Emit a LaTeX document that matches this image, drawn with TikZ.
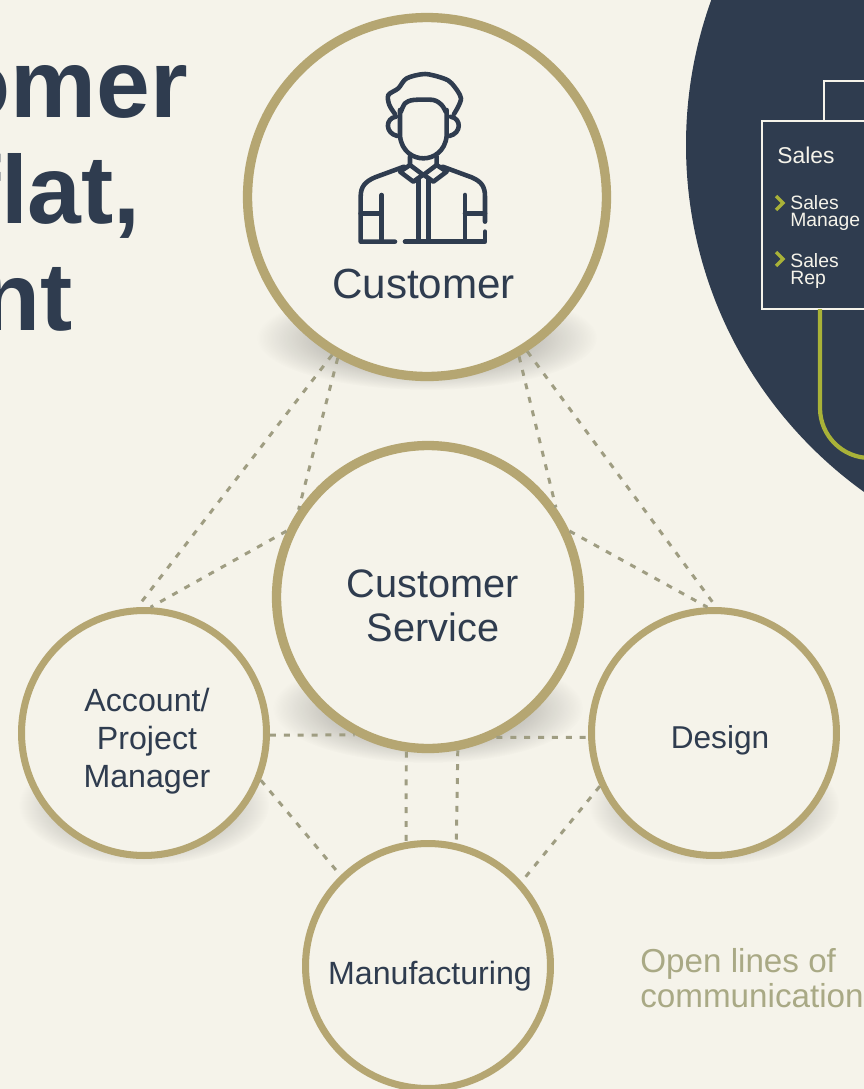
\documentclass[tikz,border=0pt]{standalone}
\usepackage{fontspec}
\usepackage{xcolor}
\usetikzlibrary{fadings}
\setmainfont{Liberation Sans}

\definecolor{paper}{HTML}{F5F3EA}
\definecolor{inkblue}{HTML}{2F3C4F}
\definecolor{ringgold}{HTML}{B5A672}
\definecolor{dashgrey}{HTML}{9F9D82}
\definecolor{limegreen}{HTML}{A9B238}
\definecolor{openolive}{HTML}{A9A985}

\tikzfading[name=softspot, inner color=transparent!0, outer color=transparent!100]

\tikzset{
    bigring/.style={circle, draw=ringgold, fill=paper, line width=5.3pt, outer sep=2.65pt},
    smallring/.style={circle, draw=ringgold, fill=paper, line width=4pt, outer sep=2pt},
    openline/.style={draw=dashgrey, line width=1.7pt, dash pattern=on 3.4pt off 4.5pt},
    softshadow/.style={fill=black, fill opacity=0.5, path fading=softspot},
    iconline/.style={draw=inkblue, line width=2.6pt, line cap=round, line join=round},
    circletext/.style={text=inkblue, align=center},
    boxtext/.style={text=paper, align=left, anchor=base west},
}

\begin{document}
\begin{tikzpicture}[x=0.02cm, y=-0.02cm]

    \clip (0,0) rectangle (864,1089);
    \fill[paper] (0,0) rectangle (864,1089);

    % title
    \node[text=inkblue, anchor=base east, inner sep=0pt, font=\fontsize{55}{60}\selectfont\bfseries] (titleone) at (188,117) {omer};
    \node[text=inkblue, anchor=base east, inner sep=0pt, font=\fontsize{55}{60}\selectfont\bfseries] (titletwo) at (141,223) {flat,};
    \node[text=inkblue, anchor=base east, inner sep=0pt, font=\fontsize{55}{60}\selectfont\bfseries] (titlethree) at (73,330) {nt};

    % org chart circle
    \fill[inkblue] (1113,145) circle (427);
    \node[rectangle, draw=paper, line width=1.5pt, outer sep=0pt, minimum width=4cm, minimum height=3.76cm, anchor=north west] (salesbox) at (762,121) {};
    \coordinate (salesup) at (824,121);
    \coordinate (chartline) at (890,81);
    \coordinate (salesdown) at (820,309);
    \coordinate (greenend) at (890,458);
    \draw[paper, line width=1.5pt] (salesup) |- (chartline);
    \draw[limegreen, line width=2.4pt, rounded corners=1cm] (salesdown) |- (greenend);

    \node[boxtext, inner sep=0pt, font=\fontsize{13}{15}\selectfont] (salestitle) at (777,163) {Sales};
    \node[boxtext, inner sep=0pt, font=\fontsize{11}{10}\selectfont] (salesmanager) at (790,209) {Sales};
    \node[boxtext, inner sep=0pt, font=\fontsize{11}{10}\selectfont] (salesmanagertwo) at (790,226) {Manage};
    \node[boxtext, inner sep=0pt, font=\fontsize{11}{10}\selectfont] (salesrep) at (790,267) {Sales};
    \node[boxtext, inner sep=0pt, font=\fontsize{11}{10}\selectfont] (salesreptwo) at (790,284) {Rep};
    \draw[limegreen, line width=2pt] (776,196) -- (783,203) -- (776,210);
    \draw[limegreen, line width=2pt] (776,252) -- (783,259) -- (776,266);

    % shadows below the circles
    \fill[softshadow] (427,338) ellipse (170 and 52);
    \fill[softshadow] (428,708) ellipse (155 and 55);
    \fill[softshadow] (144,805) ellipse (125 and 60);
    \fill[softshadow] (714,805) ellipse (125 and 60);

    % circles
    \node[bigring, minimum size=7.18cm] (customer) at (427,197) {};
    \node[bigring, minimum size=6.06cm] (service) at (428,597) {};
    \node[smallring, minimum size=4.9cm] (account) at (144,733) {};
    \node[smallring, minimum size=4.9cm] (design) at (714,733) {};
    \node[smallring, minimum size=4.9cm] (manufacturing) at (428,966) {};

    % open lines
    \draw[openline] (customer.-121) -- (account.93);
    \draw[openline] (customer.-119) -- (service.146);
    \draw[openline] (service.155) -- (account.87);
    \draw[openline] (customer.-60) -- (service.35);
    \draw[openline] (customer.-57) -- (design.89);
    \draw[openline] (service.25) -- (design.93);
    \draw[openline] (account.-1) -- (service.-118);
    \draw[openline] (service.-64.7) -- (design.182);
    \draw[openline] (service.-98) -- (manufacturing.100);
    \draw[openline] (service.-79) -- (manufacturing.77);
    \draw[openline] (account.-22) -- (manufacturing.134);
    \draw[openline] (design.-155) -- (manufacturing.42);

    % person icon
    \begin{scope}[shift={(300,50)}, scale=1/3]
        \draw[iconline] plot[smooth] coordinates {(285,192) (268,165) (265,135) (295,115) (320,85) (375,72) (430,85) (455,100) (483,145) (462,192)};
        \draw[iconline] plot[smooth] coordinates {(303,185) (315,160) (340,150) (400,150) (425,165) (437,185)};
        \draw[iconline] (288,200) .. controls (255,205) and (255,250) .. (292,258);
        \draw[iconline] (452,200) .. controls (485,205) and (485,250) .. (448,258);
        \draw[iconline] (300,180) -- (300,258) .. controls (305,305) and (340,325) .. (370,325) .. controls (400,325) and (435,305) .. (440,258) -- (440,180);
        \draw[iconline] (330,320) -- (330,345) -- (370,375) -- (410,345) -- (410,320);
        \draw[iconline] (330,345) -- (300,365) -- (340,395) -- (368,375);
        \draw[iconline] (410,345) -- (440,365) -- (400,395) -- (372,375);
        \draw[iconline] (355,385) -- (355,575);
        \draw[iconline] (385,385) -- (385,575);
        \draw[iconline] (312,350) -- (225,382) .. controls (195,395) and (182,410) .. (182,440) -- (182,575) -- (285,575);
        \draw[iconline] (315,575) -- (555,575) -- (555,545);
        \draw[iconline] (555,515) -- (555,440) .. controls (555,410) and (545,395) .. (515,382) -- (428,350);
        \draw[iconline] (245,435) -- (245,575);
        \draw[iconline] (495,435) -- (495,575);
        \draw[iconline] (182,490) -- (245,490);
        \draw[iconline] (495,490) -- (555,490);
    \end{scope}

    % labels
    \node[circletext, anchor=base, inner sep=0pt, font=\fontsize{24}{28}\selectfont] (customerlabel) at (423.5,298) {Customer};
    \node[circletext, font=\fontsize{22.6}{25}\selectfont] (servicelabel) at (433,606) {Customer\\Service};
    \node[circletext, font=\fontsize{18.3}{21.5}\selectfont] (accountlabel) at (147,741) {Account/\\Project\\Manager};
    \node[circletext, font=\fontsize{18}{21}\selectfont] (designlabel) at (720,740) {Design};
    \node[circletext, font=\fontsize{18.3}{21}\selectfont] (manufacturinglabel) at (430,976) {Manufacturing};
    \node[text=openolive, align=left, anchor=west, inner sep=0pt, font=\fontsize{18.9}{19.5}\selectfont] (openlabel) at (640,978) {Open lines of\\communication};

\end{tikzpicture}
\end{document}
